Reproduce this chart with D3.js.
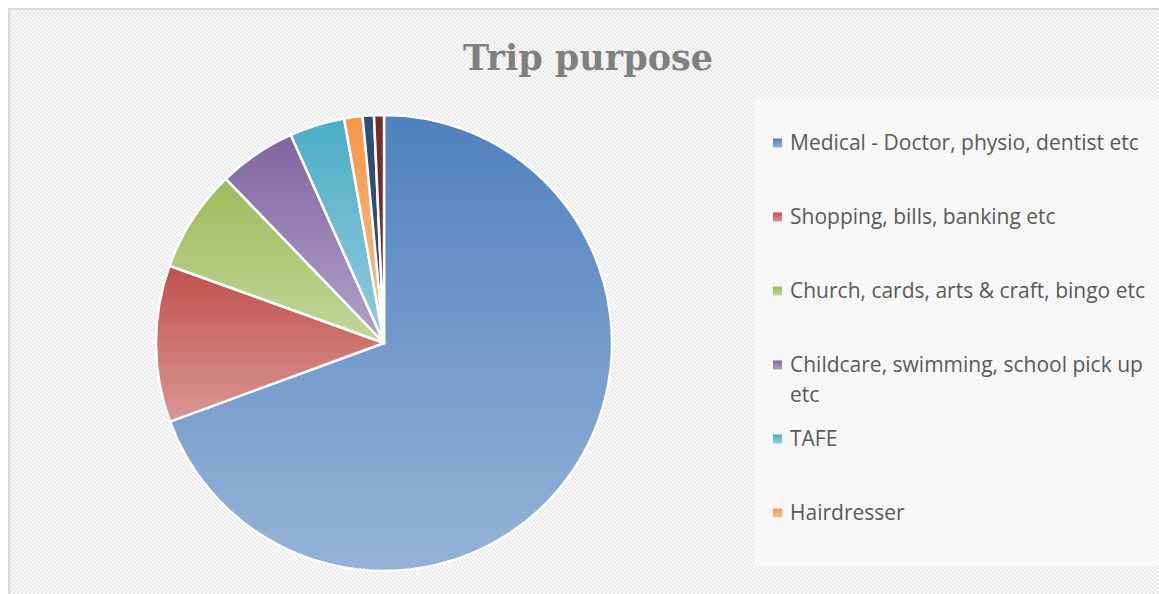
<!DOCTYPE html>
<html>
<head>
<meta charset="utf-8">
<script src="https://cdn.jsdelivr.net/npm/d3@7"></script>
<style>
  html, body { margin: 0; padding: 0; background: #ffffff; }
  svg { display: block; }
</style>
</head>
<body>
<svg id="chart" width="1159" height="594"></svg>
<script>
// ---- data (percent of trips) ----
const categories = [
  "Medical - Doctor, physio, dentist etc",
  "Shopping, bills, banking etc",
  "Church, cards, arts & craft, bingo etc",
  "Childcare, swimming, school pick up etc",
  "TAFE",
  "Hairdresser",
  "Category 7",
  "Category 8"
];
const values = [69.4, 11.1, 7.3, 5.5, 3.9, 1.3, 0.8, 0.7];
const legendShown = 6; // legend in the reference lists only the first six
const title = "Trip purpose";

const darkColors  = ["#4f81bd", "#c0504d", "#9bbb59", "#8064a2", "#4bacc6", "#f79646", "#2c4d75", "#772c2a"];
const lightColors = ["#95b3d7", "#da9694", "#c3d69b", "#b3a2c7", "#93cddd", "#fabf8f", "#2c4d75", "#772c2a"];

// ---- layout ----
const W = 1159, H = 594;
const svg = d3.select("#chart");
const defs = svg.append("defs");

// hatched background: pixel-aligned diagonal stripes (down-right)
const P = 4;
const pat = defs.append("pattern")
  .attr("id", "hatch").attr("patternUnits", "userSpaceOnUse")
  .attr("x", 0).attr("y", 0)
  .attr("width", P).attr("height", P);
pat.append("rect").attr("width", P).attr("height", P).attr("fill", "#fbfbfb");
for (let k = 0; k < P; k++) {
  pat.append("rect").attr("x", k).attr("y", k).attr("width", 1).attr("height", 1).attr("fill", "#e8e8e8");
  pat.append("rect").attr("x", (k + 1) % P).attr("y", k).attr("width", 1).attr("height", 1).attr("fill", "#e8e8e8");
}

svg.append("rect").attr("x", 0).attr("y", 0).attr("width", W).attr("height", H).attr("fill", "#ffffff");
svg.append("rect").attr("x", 9).attr("y", 9).attr("width", W + 20).attr("height", H + 20)
  .attr("fill", "url(#hatch)").attr("stroke", "#d9d9d9").attr("stroke-width", 2);

// slice gradients
categories.forEach((c, i) => {
  const g = defs.append("linearGradient").attr("id", "grad" + i)
    .attr("x1", 0).attr("y1", 0).attr("x2", 0).attr("y2", 1);
  g.append("stop").attr("offset", "0%").attr("stop-color", darkColors[i]);
  g.append("stop").attr("offset", "100%").attr("stop-color", lightColors[i]);
});

// title
svg.append("text")
  .attr("x", 588).attr("y", 70)
  .attr("text-anchor", "middle")
  .attr("font-family", "'DejaVu Serif', 'Liberation Serif', serif")
  .attr("font-weight", "bold")
  .attr("font-size", 35)
  .attr("fill", "#808080")
  .text(title);

// pie
const cx = 384, cy = 343, R = 228;
const pie = d3.pie().sort(null).value(d => d.v);
const arc = d3.arc().innerRadius(0).outerRadius(R);
const data = categories.map((c, i) => ({ c, v: values[i], i }));

svg.append("g").attr("transform", `translate(${cx},${cy})`)
  .selectAll("path").data(pie(data)).join("path")
  .attr("d", arc)
  .attr("fill", d => `url(#grad${d.data.i})`)
  .attr("stroke", "#ffffff")
  .attr("stroke-width", 2.5)
  .attr("stroke-linejoin", "round");

// legend box
svg.append("rect").attr("x", 755).attr("y", 100).attr("width", 420).attr("height", 466)
  .attr("fill", "#ffffff").attr("fill-opacity", 0.45);

const legendY = d3.scalePoint().domain(d3.range(legendShown)).range([143, 513]);
const lg = svg.append("g");
const wraps = { 3: ["Childcare, swimming, school pick up", "etc"] };
d3.range(legendShown).forEach(i => {
  const y = legendY(i);
  lg.append("rect").attr("x", 773).attr("y", y - 4.5).attr("width", 9).attr("height", 9)
    .attr("fill", `url(#grad${i})`);
  const lines = wraps[i] || [categories[i]];
  const t = lg.append("text")
    .attr("x", 790).attr("y", y)
    .attr("font-family", "'Open Sans', Lato, sans-serif")
    .attr("font-size", 21)
    .attr("fill", "#595959");
  lines.forEach((l, k) => {
    t.append("tspan").attr("x", 790).attr("dy", k === 0 ? "0.35em" : 30).text(l);
  });
});
</script>
</body>
</html>
